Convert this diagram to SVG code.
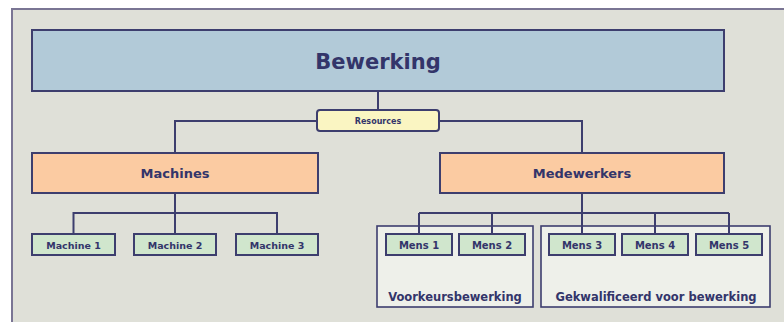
<svg xmlns="http://www.w3.org/2000/svg" width="784" height="322" viewBox="0 0 784 322">
  <style>
    .box { stroke: #3d3e6e; stroke-width: 2; }
    .top { fill: #b2cad8; }
    .res { fill: #faf5c2; }
    .mid { fill: #fbcba2; }
    .leaf { fill: #d0e6cd; }
    .grp { fill: #eef0ea; stroke: #3d3e6e; stroke-width: 1.6; }
    .lbl { font-family: "DejaVu Sans", Verdana, sans-serif; font-weight: bold; fill: #33356a; text-anchor: middle; }
    .conn { fill: none; stroke: #3d3e6e; stroke-width: 2; }
  </style>
  <rect x="0" y="0" width="784" height="322" fill="#ffffff"/>
  <!-- panel -->
  <rect x="12" y="9" width="790" height="330" fill="#dfe0d8" stroke="#7a7594" stroke-width="2"/>

  <!-- connectors -->
  <g id="connectors">
    <path class="conn" d="M378 91 V110"/>
    <path class="conn" d="M317 121 H175 V153"/>
    <path class="conn" d="M439 121 H582 V153"/>
    <path class="conn" d="M175 193 V234 M175 213 H73.5 V234 M175 213 H277 V234"/>
    <path class="conn" d="M582 193 V234 M419 213 H729 M419 213 V234 M492 213 V234 M655 213 V234 M729 213 V234"/>
  </g>

  <!-- group frames -->
  <g id="grp-voorkeur">
    <rect class="grp" x="377" y="226" width="156" height="81"/>
    <text class="lbl" x="455" y="301" font-size="11.5">Voorkeursbewerking</text>
  </g>
  <g id="grp-gekwalificeerd">
    <rect class="grp" x="541" y="226" width="229" height="81"/>
    <text class="lbl" x="656" y="301" font-size="11.5">Gekwalificeerd voor bewerking</text>
  </g>

  <!-- vertical stubs drawn above the group frames -->
  <g id="connectors-over">
    <path class="conn" d="M419 213 V234 M492 213 V234 M582 213 V234 M655 213 V234 M729 213 V234"/>
  </g>

  <g id="bewerking">
    <rect class="box top" x="32" y="30" width="692" height="61"/>
    <text class="lbl" x="378" y="69" font-size="21" fill="#2b2d6b">Bewerking</text>
  </g>
  <g id="resources">
    <rect class="box res" x="317" y="110" width="122" height="21" rx="3"/>
    <text class="lbl" x="378" y="124" font-size="8">Resources</text>
  </g>
  <g id="machines">
    <rect class="box mid" x="32" y="153" width="286" height="40"/>
    <text class="lbl" x="175" y="178" font-size="13">Machines</text>
  </g>
  <g id="medewerkers">
    <rect class="box mid" x="440" y="153" width="284" height="40"/>
    <text class="lbl" x="582" y="178" font-size="13">Medewerkers</text>
  </g>

  <g id="machine1">
    <rect class="box leaf" x="32" y="234" width="83" height="21"/>
    <text class="lbl" x="73.5" y="248.5" font-size="9.5">Machine 1</text>
  </g>
  <g id="machine2">
    <rect class="box leaf" x="134" y="234" width="82" height="21"/>
    <text class="lbl" x="175" y="248.5" font-size="9.5">Machine 2</text>
  </g>
  <g id="machine3">
    <rect class="box leaf" x="236" y="234" width="82" height="21"/>
    <text class="lbl" x="277" y="248.5" font-size="9.5">Machine 3</text>
  </g>

  <g id="mens1">
    <rect class="box leaf" x="386" y="234" width="66" height="21"/>
    <text class="lbl" x="419" y="248.5" font-size="10">Mens 1</text>
  </g>
  <g id="mens2">
    <rect class="box leaf" x="459" y="234" width="66" height="21"/>
    <text class="lbl" x="492" y="248.5" font-size="10">Mens 2</text>
  </g>
  <g id="mens3">
    <rect class="box leaf" x="549" y="234" width="66" height="21"/>
    <text class="lbl" x="582" y="248.5" font-size="10">Mens 3</text>
  </g>
  <g id="mens4">
    <rect class="box leaf" x="622" y="234" width="66" height="21"/>
    <text class="lbl" x="655" y="248.5" font-size="10">Mens 4</text>
  </g>
  <g id="mens5">
    <rect class="box leaf" x="696" y="234" width="66" height="21"/>
    <text class="lbl" x="729" y="248.5" font-size="10">Mens 5</text>
  </g>
</svg>
